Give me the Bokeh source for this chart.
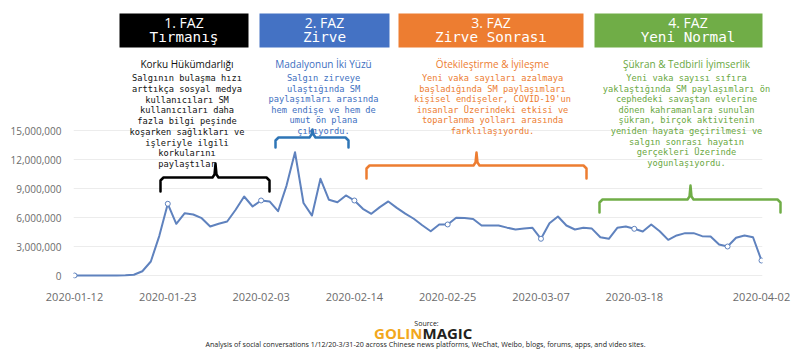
import pandas as pd
from bokeh.plotting import figure
from bokeh.models import (Range1d, FixedTicker, NumeralTickFormatter,
                          BoxAnnotation, DatetimeTickFormatter)
from bokeh.core.properties import value
from bokeh.embed import file_html
from bokeh.resources import INLINE

# ---------------- data ----------------
tick_labels = ["2020-01-12", "2020-01-23", "2020-02-03", "2020-02-14",
               "2020-02-25", "2020-03-07", "2020-03-18", "2020-04-02"]
y_ticks = [0, 3000000, 6000000, 9000000, 12000000, 15000000]
mentions = [
    0, 0, 0, 0, 0, 0, 20000, 80000, 440000, 1450000,
    4100000, 7420000, 5350000, 6440000, 6310000, 5930000, 5070000, 5350000, 5590000, 6800000,
    8170000, 7140000, 7760000, 7660000, 6650000, 9300000, 12750000, 7500000, 6200000, 10000000,
    7830000, 7580000, 8280000, 7760000, 6900000, 6380000, 7070000, 7660000, 7000000, 6400000,
    5870000, 5200000, 4580000, 5280000, 5280000, 5970000, 5950000, 5850000, 5170000, 5170000,
    5170000, 4950000, 4760000, 4850000, 4930000, 3800000, 5400000, 6100000, 5170000, 4760000,
    4930000, 4850000, 3960000, 3800000, 4930000, 5070000, 4830000, 4550000, 5280000, 4580000,
    3690000, 4140000, 4380000, 4380000, 4070000, 4030000, 3200000, 3000000, 3900000, 4140000,
    3960000, 1550000,
]

phase_titles = ["1. FAZ", "2. FAZ", "3. FAZ", "4. FAZ"]
phase_names = ["Tırmanış", "Zirve", "Zirve Sonrası", "Yeni Normal"]
phase_subtitles = ["Korku Hükümdarlığı", "Madalyonun İki Yüzü",
                   "Ötekileştirme & İyileşme", "Şükran & Tedbirli İyimserlik"]
phase_bodies = [
    ["Salgının bulaşma hızı", "arttıkça sosyal medya", "kullanıcıları SM",
     "kullanıcıları daha", "fazla bilgi peşinde", "koşarken sağlıkları ve",
     "işleriyle ilgili", "korkularını", "paylaştılar"],
    ["Salgın zirveye", "ulaştığında SM", "paylaşımları arasında",
     "hem endişe ve hem de", "umut ön plana", "çıkıyordu."],
    ["Yeni vaka sayıları azalmaya", "başladığında SM paylaşımları",
     "kişisel endişeler, COVID-19'un", "insanlar Üzerindeki etkisi ve",
     "toparlanma yolları arasında", "farklılaşıyordu."],
    ["Yeni vaka sayısı sıfıra", "yaklaştığında SM paylaşımları ön",
     "cephedeki savaştan evlerine", "dönen kahramanlara sunulan",
     "şükran, birçok aktivitenin", "yeniden hayata geçirilmesi ve",
     "salgın sonrası hayatın", "gerçekleri Üzerinde", "yoğunlaşıyordu."],
]
source_label = "Source:"
logo_parts = ["GOLIN", "MAGIC"]
footnote = ("Analysis of social conversations 1/12/20-3/31-20 across Chinese news "
            "platforms, WeChat, Weibo, blogs, forums, apps, and video sites.")

# ---------------- layout / style ----------------
W, H = 800, 357
FL, FR, FT, FB = 73, 762, 0, 278          # frame edges in pixels
Y0_PX, Y15_PX = 275, 130                  # pixel rows of 0 and 15,000,000

dates = pd.date_range(tick_labels[0], tick_labels[-1], freq="D")
t0 = pd.Timestamp(tick_labels[0]).value / 1e6
t1 = pd.Timestamp(tick_labels[-1]).value / 1e6
pad = (t1 - t0) / 687.0
x_start, x_end = t0 - pad, t1 + pad
per_px = 15000000 / (Y0_PX - Y15_PX)
y_start = -(FB - Y0_PX) * per_px
y_end = 15000000 + (Y15_PX - FT) * per_px


def px2x(X):
    return x_start + (X - FL) / (FR - FL) * (x_end - x_start)


def py2y(Y):
    return y_start + (FB - Y) / (FB - FT) * (y_end - y_start)


p = figure(width=W, height=H, output_backend="svg", toolbar_location=None,
           x_axis_type="datetime",
           x_range=Range1d(x_start, x_end), y_range=Range1d(y_start, y_end),
           min_border_left=FL, min_border_right=W - FR,
           min_border_top=FT, min_border_bottom=H - FB)
p.outline_line_color = None
p.background_fill_color = "white"
p.border_fill_color = "white"

# axes
p.xaxis.ticker = FixedTicker(ticks=[pd.Timestamp(t).value / 1e6 for t in tick_labels])
fmt = "%Y-%m-%d"
p.xaxis.formatter = DatetimeTickFormatter(
    microseconds=fmt, milliseconds=fmt, seconds=fmt, minsec=fmt, minutes=fmt,
    hourmin=fmt, hours=fmt, days=fmt, months=fmt, years=fmt)
p.yaxis.ticker = FixedTicker(ticks=y_ticks)
p.yaxis.formatter = NumeralTickFormatter(format="0,0")
for ax in (p.xaxis[0], p.yaxis[0]):
    ax.axis_line_color = None
    ax.major_tick_line_color = None
    ax.minor_tick_line_color = None
    ax.major_label_text_color = "#6b6b6b"
    ax.major_label_text_font = "Open Sans"
p.xaxis.major_label_text_font_size = "11px"
p.yaxis.major_label_text_font_size = "10px"
p.xaxis.major_label_standoff = 8
p.yaxis.major_label_standoff = 6
p.xgrid.visible = False
p.ygrid.ticker = FixedTicker(ticks=y_ticks)
p.ygrid.grid_line_color = "#ececec"
p.ygrid.grid_line_width = 1

# data line
LINE_C = "#5f82be"
p.line(x=dates, y=mentions, line_color=LINE_C, line_width=2, line_join="round")
mk = list(range(0, len(mentions), 11)) + [len(mentions) - 1]
p.scatter(x=[dates[i] for i in mk], y=[mentions[i] for i in mk], size=5,
          fill_color="white", line_color=LINE_C, line_width=1)


def add_text(xs, ys, texts, color, font, size, align="center", style="normal"):
    r = p.text(x=[px2x(v) for v in xs], y=[py2y(v) for v in ys], text=texts,
               text_align=align, text_baseline="middle", text_color=color,
               text_font=value(font), text_font_size=value(size),
               text_font_style=style)
    r.level = "overlay"
    return r


# header boxes
box_l = [119, 259, 398, 594]
box_r = [248, 389, 583, 781]
box_top, box_bot = 13, 47
box_c = ["#000000", "#4472c4", "#ed7d31", "#70ad47"]
text_c = ["#111111", "#3e6fc1", "#ed7d31", "#6aa842"]
body_cx = [186.5, 323, 492, 686]
line_step = [10.75, 10.6, 10.6, 10.6]

for i in range(4):
    p.add_layout(BoxAnnotation(left=px2x(box_l[i]), right=px2x(box_r[i]),
                               top=py2y(box_top), bottom=py2y(box_bot),
                               fill_color=box_c[i], fill_alpha=1.0,
                               line_color=None))
    cx = (box_l[i] + box_r[i]) / 2
    add_text([cx], [21.5], [phase_titles[i]], "white", "Open Sans", "14px")
    add_text([cx], [36], [phase_names[i]], "white", "DejaVu Sans Mono", "14.3px")
    add_text([body_cx[i]], [63.5], [phase_subtitles[i]], text_c[i], "Open Sans", "10px")
    lines = phase_bodies[i]
    add_text([body_cx[i]] * len(lines),
             [77.5 + j * line_step[i] for j in range(len(lines))],
             lines, text_c[i], "DejaVu Sans Mono", "8.7px")

# braces (left x, right x, peak x, horizontal y, end y, peak y)
braces = [
    (160, 269, 215, 177, 191, 163, "#000000"),
    (275, 348, 312, 137, 147, 129, "#2e75b6"),
    (366, 586, 476, 165, 178, 152, "#ed7d31"),
    (599, 780, 690, 199, 212, 185, "#70ad47"),
]
bx, by, bc = [], [], []
for (xl, xr, xm, yh, yb, yt, col) in braces:
    xs = [xl, xl, xl + 3, xm - 3, xm - 1, xm, xm + 1, xm + 3, xr - 3, xr, xr]
    ys = [yb, yh + 3, yh, yh, yh - 3, yt, yh - 3, yh, yh, yh + 3, yb]
    bx.append([px2x(v) for v in xs])
    by.append([py2y(v) for v in ys])
    bc.append(col)
br = p.multi_line(xs=bx, ys=by, line_color=bc, line_width=2.5,
                  line_join="round", line_cap="round")
br.level = "overlay"

# footer
add_text([426], [322.5], [source_label], "#222222", "Open Sans", "7px")
add_text([422], [332.5], [logo_parts[0]], "#f2a81d", "Open Sans", "15px",
         align="right", style="bold")
add_text([422], [332.5], [logo_parts[1]], "#231f20", "Open Sans", "15px",
         align="left", style="bold")
add_text([425], [343.5], [footnote], "#222222", "Open Sans", "7.1px")

open("out.html", "w").write(file_html(p, INLINE))
